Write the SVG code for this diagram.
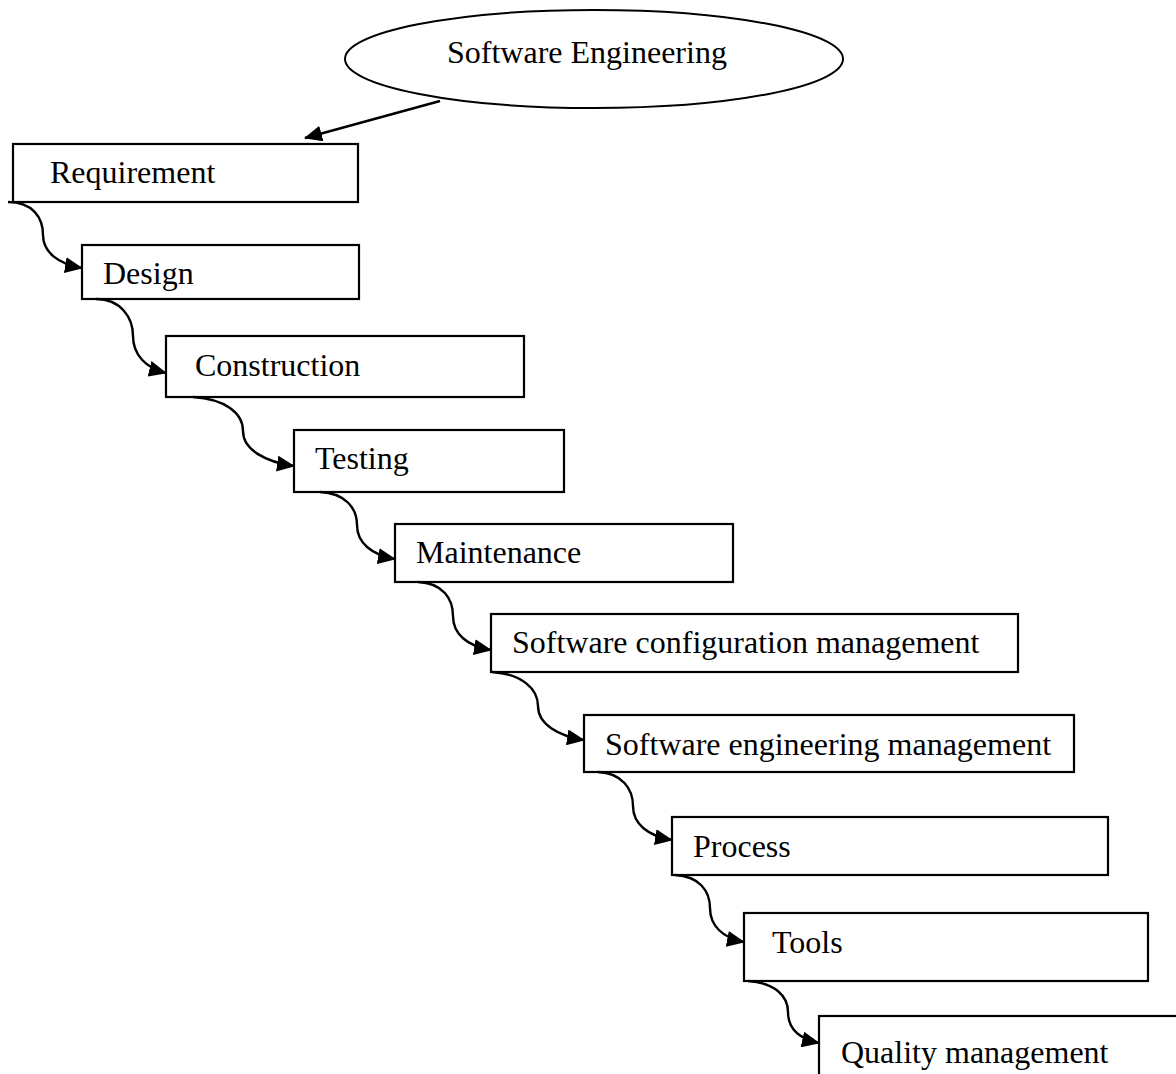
<svg xmlns="http://www.w3.org/2000/svg" width="1176" height="1074" viewBox="0 0 1176 1074">
<style>
.box{fill:#fff;stroke:#000;stroke-width:2.2}
.lbl{font-family:"Liberation Serif","Times New Roman",serif;font-size:32px;fill:#000}
.con{fill:none;stroke:#000;stroke-width:2.4;marker-end:url(#ah)}
</style>
<defs>
<marker id="ah" markerUnits="userSpaceOnUse" markerWidth="18" markerHeight="16" refX="17" refY="8" orient="auto" viewBox="0 0 18 16">
<path d="M0,0 L18,8 L0,16 z" fill="#000"/>
</marker>
</defs>
<rect width="1176" height="1074" fill="#fff"/>
<g id="software-engineering">
<ellipse cx="594" cy="59" rx="249" ry="49" fill="#fff" stroke="#000" stroke-width="2"/>
<text class="lbl" x="447" y="63">Software Engineering</text>
</g>
<g id="requirement"><rect class="box" x="13" y="144" width="345" height="58"/><text class="lbl" x="50" y="183">Requirement</text></g>
<g id="design"><rect class="box" x="82" y="245" width="277" height="54"/><text class="lbl" x="103" y="284">Design</text></g>
<g id="construction"><rect class="box" x="166" y="336" width="358" height="61"/><text class="lbl" x="195" y="376">Construction</text></g>
<g id="testing"><rect class="box" x="294" y="430" width="270" height="62"/><text class="lbl" x="315" y="469">Testing</text></g>
<g id="maintenance"><rect class="box" x="395" y="524" width="338" height="58"/><text class="lbl" x="416" y="563">Maintenance</text></g>
<g id="scm"><rect class="box" x="491" y="614" width="527" height="58"/><text class="lbl" x="512" y="653">Software configuration management</text></g>
<g id="sem"><rect class="box" x="584" y="715" width="490" height="57"/><text class="lbl" x="605" y="755">Software engineering management</text></g>
<g id="process"><rect class="box" x="672" y="817" width="436" height="58"/><text class="lbl" x="693" y="857">Process</text></g>
<g id="tools"><rect class="box" x="744" y="913" width="404" height="68"/><text class="lbl" x="772" y="953">Tools</text></g>
<g id="quality"><rect class="box" x="819" y="1016" width="420" height="100"/><text class="lbl" x="841" y="1063">Quality management</text></g>
<g id="connectors">
<path class="con" d="M440,101 L305,138"/>
<path class="con" d="M8,202 C33,202 43,218 43,235 C43,252 58,264 82,268"/>
<path class="con" d="M96,299 C121,299 133,318 133,336 C133,355 146,368 166,373"/>
<path class="con" d="M193,397 C225,399 243,413 243,431 C243,450 266,462 294,466"/>
<path class="con" d="M320,492 C345,493 357,508 357,525 C357,543 372,555 395,559"/>
<path class="con" d="M418,582 C443,583 453,599 453,616 C453,634 467,646 491,650"/>
<path class="con" d="M492,672 C522,674 538,689 538,706 C538,724 558,736 584,740"/>
<path class="con" d="M598,772 C622,773 633,789 633,806 C633,824 648,836 672,840"/>
<path class="con" d="M675,875 C699,876 710,891 710,908 C710,926 723,938 744,942"/>
<path class="con" d="M748,981 C775,983 788,996 788,1012 C788,1030 800,1039 819,1043"/>
</g>
</svg>
